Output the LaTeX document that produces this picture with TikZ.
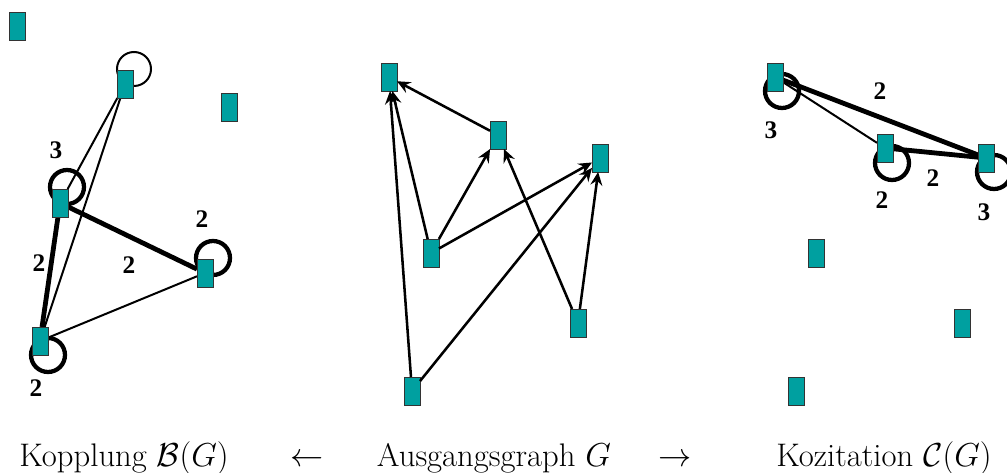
\documentclass[tikz,border=0pt]{standalone}
\usepackage{amsmath,amssymb}
\usepackage{fontspec}
\usepackage{xcolor}
\usepackage{tikz}
\usetikzlibrary{arrows.meta,calc,backgrounds}
\newfontfamily\wfont{Liberation Serif}
\definecolor{vtxteal}{RGB}{0,160,160}
\tikzset{
  vtx/.style={draw=black!80,line width=0.7pt,fill=vtxteal,inner sep=0pt,outer sep=0pt,
              minimum width=12pt,minimum height=21pt},
  thinedge/.style={line width=1.5pt},
  thickedge/.style={line width=3.6pt},
  arc/.style={line width=1.9pt,-{Stealth[length=10pt,width=9pt,inset=3.5pt]}},
  wlab/.style={font=\wfont\bfseries\fontsize{19}{21}\selectfont,inner sep=0pt},
  capt/.style={font=\fontsize{24.5}{28}\selectfont,anchor=base,inner sep=0pt}
}

\begin{document}
\begin{tikzpicture}[x=0.75pt,y=-0.75pt]
  \useasboundingbox (0,0) rectangle (1007,473);
  % vertices of the three panels
  \foreach \n/\x/\y in {L0/17/26, L1/125/84, L2/229/107, L3/60/203, L4/205/273, L5/40/341,
                        M1/389/77, M2/498/135, M3/600/158, M4/431/253, M5/578/323, M6/412/391,
                        R1/775/77, R2/885/148, R3/986/158, R4/816/253, R5/962/323, R6/796/391}{
     \node[vtx] (\n) at (\x,\y) {};}
  \begin{scope}[on background layer]
    % coupling
    \draw[thinedge] (L1) -- (L3);
    \draw[thinedge] (L1) -- (L5);
    \draw[thinedge] (L5) -- (L4);
    \draw[thickedge] (L3) -- (L5);
    \draw[thickedge] (L3) -- (L4);
    % cocitation
    \draw[thinedge] (R1) -- (R2);
    \draw[thickedge] (R1) -- (R3);
    \draw[thickedge] (R2) -- (R3);
    % loops
    \foreach \n/\dx/\dy/\w in {L1/9/-15/1.5pt, L3/7/-16/3.2pt, L4/8/-15/3.2pt, L5/8/14/3.2pt,
                               R1/7/14/3.2pt, R2/7/15/3.2pt, R3/8/14/3.2pt}{
       \draw[line width=\w] ($(\n)+(\dx,\dy)$) circle[radius=12.75pt];}
  \end{scope}
  % original graph
  \draw[arc] (M2) -- (M1);
  \draw[arc] (M4) -- (M1);
  \draw[arc] (M6) -- (M1);
  \draw[arc] (M4) -- (M2);
  \draw[arc] (M4) -- (M3);
  \draw[arc] (M6) -- (M3);
  \draw[arc] (M5) -- (M2);
  \draw[arc] (M5) -- (M3);
  % weights
  \foreach \n/\x/\y/\t in {wa/56/150/3, wb/202/219/2, wc/36/388/2, wd/39/263/2, we/129/265/2,
                           wf/880/91/2, wg/771/130/3, wh/882/200/2, wi/933/178/2, wj/984/212/3}{
     \node[wlab] (\n) at (\x,\y) {\t};}
  % captions
  \node[capt] (cB) at (124,467) {Kopplung $\mathcal{B}(G)$};
  \node[capt] (al) at (307,467) {$\leftarrow$};
  \node[capt] (cG) at (494,467) {Ausgangsgraph $G$};
  \node[capt] (ar) at (675,467) {$\rightarrow$};
  \node[capt] (cC) at (884,467) {Kozitation $\mathcal{C}(G)$};
\end{tikzpicture}
\end{document}
